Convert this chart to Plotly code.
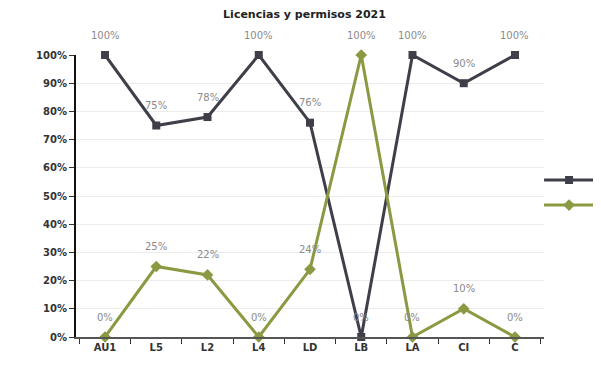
import plotly.graph_objects as go

categories = ["AU1", "L5", "L2", "L4", "LD", "LB", "LA", "CI", "C"]
licencias = [1.00, 0.75, 0.78, 1.00, 0.76, 0.00, 1.00, 0.90, 1.00]
permisos = [0.00, 0.25, 0.22, 0.00, 0.24, 1.00, 0.00, 0.10, 0.00]
y_ticks = [i / 10 for i in range(11)]
y_tick_labels = [f"{i*10}%" for i in range(11)]

fig = go.Figure()
fig.add_trace(go.Scatter(
    x=categories, y=licencias, name="Licencias", mode="lines+markers",
    legendgroup="a",
    line=dict(color="#3f3f4a", width=3),
    marker=dict(symbol="square", size=8, color="#3f3f4a"),
    cliponaxis=False,
))
fig.add_trace(go.Scatter(
    x=categories, y=permisos, name="Permisos", mode="lines+markers",
    legendgroup="b",
    line=dict(color="#8a9a42", width=3),
    marker=dict(symbol="diamond", size=9, color="#8a9a42"),
    cliponaxis=False,
))

annotations = []
for series in (licencias, permisos):
    for c, v in zip(categories, series):
        annotations.append(dict(
            x=c, y=v, text=f"{round(v*100)}%", showarrow=False,
            yshift=20, font=dict(family="DejaVu Sans", size=10, color="#8a8a8a"),
        ))

fig.update_layout(
    width=593, height=370,
    paper_bgcolor="white", plot_bgcolor="white",
    margin=dict(l=68, r=0, t=47, b=41, autoexpand=False),
    title=dict(text="<b>Licencias y permisos 2021</b>", x=0.5, xanchor="center",
               y=0.995, yanchor="top",
               font=dict(family="DejaVu Sans", size=11, color="#222")),
    font=dict(family="DejaVu Sans", size=10, color="#333"),
    legend=dict(x=0.882, y=0.512, xanchor="left", yanchor="middle",
                bgcolor="rgba(0,0,0,0)", font=dict(size=10),
                itemwidth=50, traceorder="grouped", tracegroupgap=6),
    showlegend=True,
    annotations=annotations,
)
fig.update_xaxes(
    domain=[0, 468 / 525], showline=True, linecolor="#555", linewidth=2,
    ticks="outside", tickson="boundaries", ticklen=5, tickcolor="#333",
    tickfont=dict(family="DejaVu Sans", size=10, color="#333", weight="bold"),
    showgrid=False,
)
fig.update_yaxes(
    range=[0, 1], tickvals=y_ticks, ticktext=y_tick_labels,
    showline=True, linecolor="#111", linewidth=2,
    ticks="outside", ticklen=5, tickcolor="#333",
    tickfont=dict(family="DejaVu Sans", size=10, color="#333", weight="bold"),
    showgrid=True, gridcolor="#ececec", gridwidth=1, zeroline=False,
)

fig.write_html("out.html")
